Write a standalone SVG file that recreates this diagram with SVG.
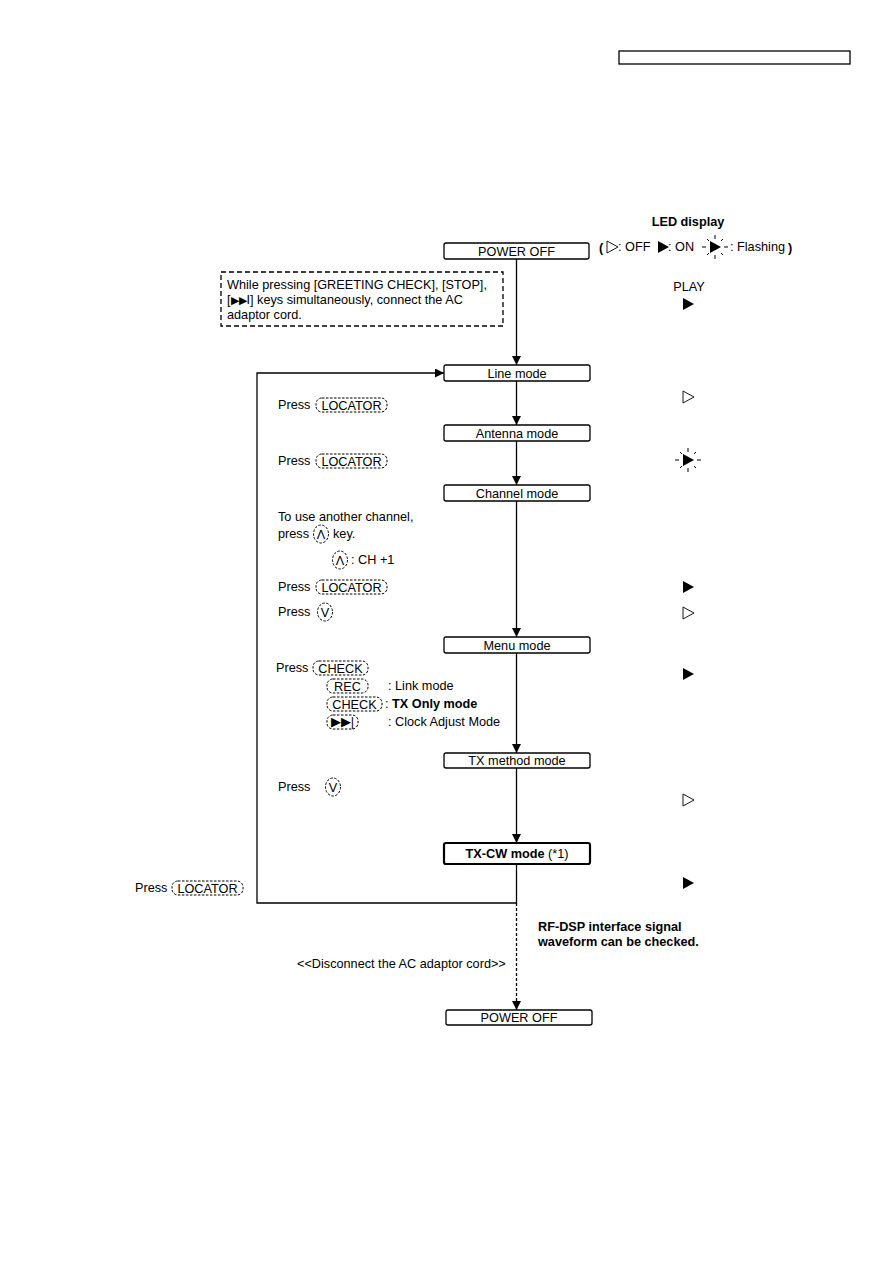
<svg xmlns="http://www.w3.org/2000/svg" width="893" height="1263" viewBox="0 0 893 1263">
<style>
text{font-family:"Liberation Sans",Arial,sans-serif;font-size:12.7px;fill:#000}
.c{text-anchor:middle}
.node{fill:#fff;stroke:#000;stroke-width:1.3}
.thick{stroke-width:2.2}
.key{fill:none;stroke:#000;stroke-width:1;stroke-dasharray:2.5 1.5}
.line{fill:none;stroke:#000;stroke-width:1.3}
.dash{fill:none;stroke:#000;stroke-width:1.3;stroke-dasharray:3 2}
.ray{stroke:#000;stroke-width:1}
</style>
<defs>
<marker id="ah" viewBox="0 0 10 10" refX="10" refY="5" markerWidth="9" markerHeight="9" markerUnits="userSpaceOnUse" orient="auto">
<path d="M0,0 L10,5 L0,10 z" fill="#000"/>
</marker>
<g id="flash">
<path d="M-5,-6 L6,0 L-5,6 z" fill="#000"/>
<line class="ray" x1="-13" y1="0" x2="-9" y2="0"/>
<line class="ray" x1="9" y1="0" x2="13" y2="0"/>
<line class="ray" x1="0" y1="-12" x2="0" y2="-8"/>
<line class="ray" x1="0" y1="8" x2="0" y2="12"/>
<line class="ray" x1="-8" y1="-8" x2="-6" y2="-6"/>
<line class="ray" x1="8" y1="-8" x2="6" y2="-6"/>
<line class="ray" x1="-8" y1="8" x2="-6" y2="6"/>
<line class="ray" x1="8" y1="8" x2="6" y2="6"/>
</g>
<path id="tri-on" d="M-5,-6 L6,0 L-5,6 z" fill="#000"/>
<path id="tri-off" d="M-5,-6 L6,0 L-5,6 z" fill="#fff" stroke="#000" stroke-width="0.9"/>
</defs>

<g id="header">
<rect x="619" y="51" width="231" height="13" fill="none" stroke="#000" stroke-width="1.3"/>
</g>

<g id="connectors">
<line class="line" x1="516.5" y1="259" x2="516.5" y2="365" marker-end="url(#ah)"/>
<line class="line" x1="516.5" y1="381" x2="516.5" y2="425" marker-end="url(#ah)"/>
<line class="line" x1="516.5" y1="441" x2="516.5" y2="485" marker-end="url(#ah)"/>
<line class="line" x1="516.5" y1="501" x2="516.5" y2="637" marker-end="url(#ah)"/>
<line class="line" x1="516.5" y1="653" x2="516.5" y2="753" marker-end="url(#ah)"/>
<line class="line" x1="516.5" y1="768" x2="516.5" y2="843" marker-end="url(#ah)"/>
<polyline class="line" points="516.5,864 516.5,903 257,903 257,373 444,373" marker-end="url(#ah)"/>
<line class="dash" x1="516.5" y1="903" x2="516.5" y2="1010" marker-end="url(#ah)"/>
</g>

<g id="power-off-1">
<rect class="node" x="444" y="243" width="145" height="16" rx="2"/>
<text class="c" x="516.5" y="256">POWER OFF</text>
</g>
<g id="note">
<rect x="221" y="272" width="282" height="54" fill="#fff" stroke="#000" stroke-width="1.3" stroke-dasharray="5 3"/>
<text x="227" y="289">While pressing [GREETING CHECK], [STOP],</text>
<text x="227" y="304">[<tspan font-size="10.5">▶▶</tspan>I] keys simultaneously, connect the AC</text>
<text x="227" y="319">adaptor cord.</text>
</g>
<g id="line-mode">
<rect class="node" x="444" y="365" width="146" height="16" rx="2"/>
<text class="c" x="517" y="378">Line mode</text>
</g>
<g id="antenna-mode">
<rect class="node" x="444" y="425" width="146" height="16" rx="2"/>
<text class="c" x="517" y="438">Antenna mode</text>
</g>
<g id="channel-mode">
<rect class="node" x="444" y="485" width="146" height="16" rx="2"/>
<text class="c" x="517" y="498">Channel mode</text>
</g>
<g id="menu-mode">
<rect class="node" x="444" y="637" width="146" height="16" rx="2"/>
<text class="c" x="517" y="650">Menu mode</text>
</g>
<g id="tx-method-mode">
<rect class="node" x="444" y="753" width="146" height="15" rx="2"/>
<text class="c" x="517" y="765">TX method mode</text>
</g>
<g id="tx-cw-mode">
<rect class="node thick" x="444" y="843" width="146" height="21" rx="2"/>
<text class="c" x="517" y="858"><tspan font-weight="bold">TX-CW mode</tspan> (*1)</text>
</g>
<g id="power-off-2">
<rect class="node" x="446" y="1010" width="146" height="15" rx="2"/>
<text class="c" x="519" y="1022">POWER OFF</text>
</g>

<g id="labels">
<text x="278" y="409">Press</text>
<rect class="key" x="316" y="398" width="71" height="14" rx="6"/>
<text class="c" x="351.5" y="410">LOCATOR</text>

<text x="278" y="465">Press</text>
<rect class="key" x="316" y="454" width="71" height="14" rx="6"/>
<text class="c" x="351.5" y="466">LOCATOR</text>

<text x="278" y="521">To use another channel,</text>
<text x="278" y="538">press</text>
<ellipse class="key" cx="321" cy="534" rx="7.5" ry="9"/>
<text class="c" x="321" y="539">Λ</text>
<text x="333" y="538">key.</text>
<ellipse class="key" cx="340" cy="560" rx="7.5" ry="9"/>
<text class="c" x="340" y="565">Λ</text>
<text x="351" y="564">: CH +1</text>

<text x="278" y="591">Press</text>
<rect class="key" x="316" y="580" width="71" height="14" rx="6"/>
<text class="c" x="351.5" y="592">LOCATOR</text>

<text x="278" y="616">Press</text>
<ellipse class="key" cx="325" cy="612" rx="7.5" ry="9"/>
<text class="c" x="325" y="617">V</text>

<text x="276" y="672">Press</text>
<rect class="key" x="313" y="661" width="55" height="14" rx="6"/>
<text class="c" x="340.5" y="673">CHECK</text>
<rect class="key" x="327" y="679" width="41" height="14" rx="6"/>
<text class="c" x="347.5" y="691">REC</text>
<text x="388" y="690">: Link mode</text>
<rect class="key" x="327" y="697" width="55" height="14" rx="6"/>
<text class="c" x="354.5" y="709">CHECK</text>
<text x="385" y="708">: <tspan font-weight="bold">TX Only mode</tspan></text>
<rect class="key" x="327" y="715" width="31" height="14" rx="6"/>
<text class="c" x="342.5" y="726" font-size="10.5">▶▶|</text>
<text x="388" y="726">: Clock Adjust Mode</text>

<text x="278" y="791">Press</text>
<ellipse class="key" cx="333" cy="787" rx="7.5" ry="9"/>
<text class="c" x="333" y="792">V</text>

<text x="135" y="892">Press</text>
<rect class="key" x="172" y="881" width="71" height="14" rx="6"/>
<text class="c" x="207.5" y="893">LOCATOR</text>

<text x="538" y="931" font-weight="bold">RF-DSP interface signal</text>
<text x="538" y="946" font-weight="bold">waveform can be checked.</text>
<text x="297" y="968">&lt;&lt;Disconnect the AC adaptor cord&gt;&gt;</text>
</g>

<g id="led-legend">
<text class="c" x="688" y="226" font-weight="bold" font-size="14">LED display</text>
<text x="599" y="252" font-weight="bold" font-size="17">(</text>
<use href="#tri-off" x="612" y="247"/>
<text x="618" y="251">: OFF</text>
<use href="#tri-on" x="663" y="247"/>
<text x="668" y="251">: ON</text>
<use href="#flash" x="715" y="247"/>
<text x="730" y="251">: Flashing</text>
<text x="788" y="252" font-weight="bold" font-size="17">)</text>
<text class="c" x="689" y="291">PLAY</text>
<use href="#tri-on" x="688" y="304"/>
<use href="#tri-off" x="688" y="397"/>
<use href="#flash" x="688" y="460"/>
<use href="#tri-on" x="688" y="587"/>
<use href="#tri-off" x="688" y="613"/>
<use href="#tri-on" x="688" y="674"/>
<use href="#tri-off" x="688" y="800"/>
<use href="#tri-on" x="688" y="883"/>
</g>
</svg>
